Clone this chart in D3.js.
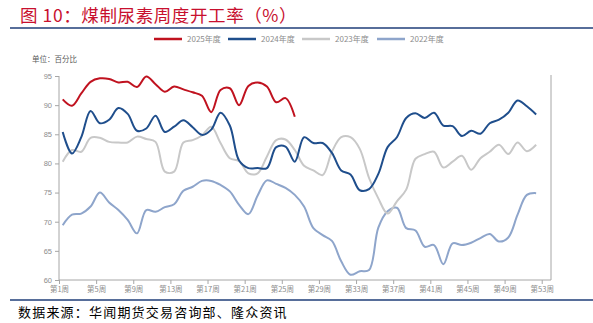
<!DOCTYPE html>
<html><head><meta charset="utf-8">
<script src="https://cdn.jsdelivr.net/npm/d3@7"></script>
<style>
html,body{margin:0;padding:0;background:#fff;}
svg{display:block;}
</style></head>
<body>
<svg id="chart" width="593" height="323"></svg>
<script>
const weeks = d3.range(1, 53);
const s2025 = [91.0,89.9,92.0,94.0,94.6,94.5,93.9,94.0,93.1,94.9,93.6,92.3,93.2,92.7,92.2,91.6,88.8,92.6,92.9,90.0,93.3,93.9,93.2,90.5,91.2,88.0];
const s2024 = [85.4,81.7,84.5,89.0,86.9,87.5,89.5,88.5,85.6,86.0,88.2,85.4,86.3,87.4,86.2,84.9,85.8,88.7,86.5,80.5,79.2,79.2,79.2,82.8,82.9,80.3,84.5,83.5,83.5,81.8,78.8,78.1,75.4,75.6,78.2,82.8,84.5,87.8,88.6,87.8,88.7,86.5,86.4,84.7,85.6,85.1,86.9,87.5,88.7,90.8,89.8,88.4];
const s2023 = [80.3,82.3,82.0,84.4,84.4,83.7,83.6,83.6,84.6,84.2,83.7,78.6,78.6,83.6,84.0,84.8,86.3,83.5,80.9,80.4,78.3,78.3,81.2,84.0,84.1,82.3,79.6,78.8,78.0,82.0,84.5,84.5,82.5,77.5,74.0,71.4,73.5,75.5,80.8,81.6,82.0,79.3,80.3,81.3,78.9,80.9,82.0,83.2,81.6,83.6,82.1,83.2];
const s2022 = [69.4,71.2,71.4,72.6,75.0,73.3,72.0,70.3,68.0,72.0,71.7,72.5,73.0,75.3,76.0,77.0,77.0,76.3,75.2,72.9,71.3,74.5,77.1,76.5,75.8,74.6,72.6,68.9,67.7,66.7,63.2,60.9,61.5,61.7,69.0,71.8,72.4,68.9,68.5,65.7,66.0,62.7,66.3,66.0,66.4,67.2,67.9,66.6,67.3,71.2,74.6,74.9];
const seriesNames = ["2025年度","2024年度","2023年度","2022年度"];
const seriesColors = ["#C0121F","#1F4E8C","#C8C8C8","#8EA5CB"];
const yTicks = [60,65,70,75,80,85,90,95];
const xTickWeeks = d3.range(1, 54, 4);
const xTickLabels = xTickWeeks.map(w => "第" + w + "周");
const title = "图 10：煤制尿素周度开工率（%）";
const unitLabel = "单位：百分比";
const sourceLabel = "数据来源：华闻期货交易咨询部、隆众资讯";

const svg = d3.select("#chart");
const x = d3.scaleLinear().domain([1, 54]).range([59, 551]);
const y = d3.scaleLinear().domain([60, 95]).range([280, 76]);
const dataOffset = 0.4;

// title
svg.append("text").attr("x", 20).attr("y", 22)
  .attr("font-family", "'Noto Sans CJK SC'").attr("font-size", 17.5)
  .attr("letter-spacing", 0.6)
  .attr("fill", "#C8102E").text(title);
svg.append("line").attr("x1", 10).attr("x2", 593).attr("y1", 28).attr("y2", 28)
  .attr("stroke", "#1F3E78").attr("stroke-width", 1.6);

// legend
const legendX = [154, 228, 302, 377];
seriesNames.forEach((n, i) => {
  const g = svg.append("g").attr("transform", `translate(${legendX[i]},39)`);
  g.append("line").attr("x1", 0).attr("x2", 28).attr("y1", 0).attr("y2", 0)
    .attr("stroke", seriesColors[i]).attr("stroke-width", 2.5);
  g.append("text").attr("x", 33).attr("y", 3).attr("font-family", "'Noto Sans CJK SC'")
    .attr("font-size", 8).attr("fill", "#8C8C8C").text(n);
});

svg.append("text").attr("x", 32).attr("y", 62).attr("font-family", "'Noto Sans CJK SC'")
  .attr("font-size", 7.5).attr("fill", "#595959").text(unitLabel);

// axes
const axisColor = "#A6A6A6";
const yAxis = svg.append("g").attr("transform", "translate(59,0)")
  .call(d3.axisLeft(y).tickValues(yTicks).tickSize(4).tickFormat(d3.format("d")));
const xAxis = svg.append("g").attr("transform", "translate(0,280)")
  .call(d3.axisBottom(x).tickValues(xTickWeeks).tickSize(4).tickFormat((d, i) => xTickLabels[i]));
[yAxis, xAxis].forEach(a => {
  a.select(".domain").attr("stroke", axisColor);
  a.selectAll(".tick line").attr("stroke", axisColor);
  a.selectAll(".tick text").attr("fill", "#8C8C8C").attr("font-size", 7.5)
    .attr("font-family", "'Liberation Sans', Arial, sans-serif");
});
yAxis.select(".domain").attr("d", "M0,76V280");
yAxis.selectAll(".tick text").attr("x", -7);
xAxis.select(".domain").attr("d", `M59,0H${x(54)}`);
xAxis.selectAll(".tick text").attr("y", 7).attr("font-family", "'Noto Sans CJK SC'");
svg.append("line").attr("x1", x(54)).attr("x2", x(54)).attr("y1", 75).attr("y2", 280)
  .attr("stroke", axisColor);

// lines
const line = d3.line().x((d, i) => x(weeks[i] + dataOffset)).y(d => y(d))
  .curve(d3.curveCatmullRom.alpha(0.5));
const allSeries = [s2025, s2024, s2023, s2022];
[3, 2, 1, 0].forEach(i => {
  svg.append("path").datum(allSeries[i]).attr("d", line)
    .attr("fill", "none").attr("stroke", seriesColors[i]).attr("stroke-width", 2);
});

// footer
svg.append("line").attr("x1", 10).attr("x2", 593).attr("y1", 300).attr("y2", 300)
  .attr("stroke", "#1F3E78").attr("stroke-width", 1.6);
svg.append("text").attr("x", 18).attr("y", 317).attr("font-family", "'Noto Sans CJK SC'")
  .attr("font-size", 13).attr("letter-spacing", 1.2).attr("fill", "#000").text(sourceLabel);
</script>
</body></html>
